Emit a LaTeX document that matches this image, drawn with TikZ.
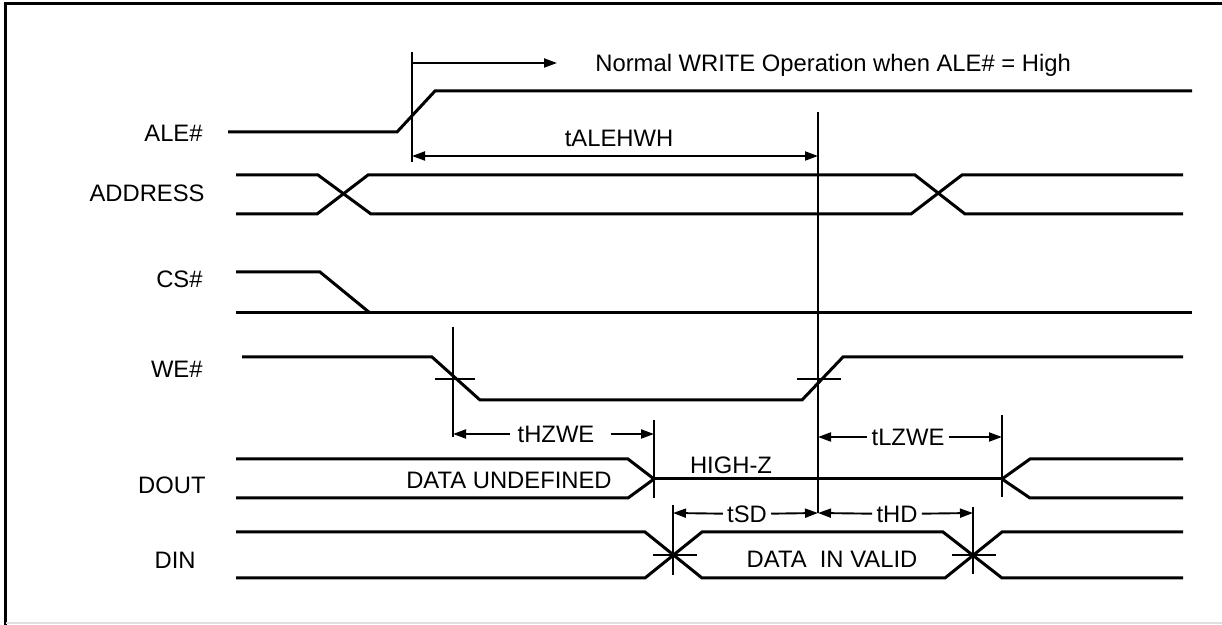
\documentclass[tikz,border=0pt]{standalone}
\usepackage{fontspec}
\setmainfont{Liberation Sans}
\usepackage{tikz}
\usetikzlibrary{arrows.meta}
\tikzstyle{sig} = [line width=1.5pt, line join=miter]
\tikzstyle{guide} = [line width=0.95pt]
\tikzstyle{frame} = [line width=1.5pt]
\tikzstyle{dimarrow} = [line width=0.95pt, -{Triangle[length=6.5pt,width=4.5pt]}]
\tikzstyle{dimboth} = [line width=0.95pt, {Triangle[length=6.5pt,width=4.5pt]}-{Triangle[length=6.5pt,width=4.5pt]}]
\tikzstyle{signame} = [anchor=east, inner sep=0pt, font={\fontsize{11.9}{14}\selectfont}]
\tikzstyle{txt} = [inner sep=2pt, font={\fontsize{11.9}{14}\selectfont}]

\begin{document}
\begin{tikzpicture}[x=0.5pt,y=-0.5pt]
        \useasboundingbox (0,0) rectangle (1222,625);
        \draw[frame] (5,625) -- (5,4) -- (1222,4);
        \draw[line width=0.6pt, black!12] (6,623) -- (1222,623);
        % signal names
        \node[signame](ale) at (203,133){ALE\#};
        \node[signame](addr) at (205,193){ADDRESS};
        \node[signame](cs) at (203,279){CS\#};
        \node[signame](we) at (203,369){WE\#};
        \node[signame](dout) at (206,485){DOUT};
        \node[signame](din) at (196,560){DIN};
        % waveforms
        \draw[sig] (228,132) -- (397,132) -- (435,91) -- (1192,91);
        \draw[sig] (236,175) -- (318,175) -- (371,214) -- (911,214) -- (962,175) -- (1183,175);
        \draw[sig] (236,214) -- (317,214) -- (368,175) -- (915,175) -- (965,214) -- (1183,214);
        \draw[sig] (236,272) -- (320,272) -- (370,313);
        \draw[sig] (236,313) -- (1192,313);
        \draw[sig] (242,357) -- (432,357) -- (480,400) -- (802,400) -- (843,357) -- (1183,357);
        \draw[sig] (236,459) -- (628,459) -- (654,479) -- (628,498) -- (236,498);
        \draw[sig] (654,479) -- (1002,479);
        \draw[sig] (1183,459) -- (1030,459) -- (1002,479) -- (1030,498) -- (1183,498);
        \draw[sig] (236,532) -- (645,532) -- (702,578) -- (945,578) -- (1002,532) -- (1183,532);
        \draw[sig] (236,578) -- (645,578) -- (702,532) -- (943,532) -- (1002,578) -- (1183,578);
        % reference lines and ticks
        \draw[guide] (412,52) -- (412,162);
        \draw[guide] (818,112) -- (818,513);
        \draw[guide] (453,327) -- (453,437);
        \draw[guide] (435,379) -- (475,379);
        \draw[guide] (797,379) -- (841,379);
        \draw[guide] (654,420) -- (654,498);
        \draw[guide] (1002,415) -- (1002,497);
        \draw[guide] (673,505) -- (673,575);
        \draw[guide] (653,555) -- (697,555);
        \draw[guide] (973,507) -- (973,574);
        \draw[guide] (952,555) -- (996,555);
        % labels on the waveforms
        \node[txt](normal) at (591,65)[anchor=west]{Normal WRITE Operation when ALE\# = High};
        \node[txt](undef) at (509,480){DATA UNDEFINED};
        \node[txt](highz) at (731,465){HIGH-Z};
        \node[txt](valid) at (832,559){DATA\ \ IN VALID};
        % timing arrows
        \coordinate(nL) at (412,63);
        \coordinate(nR) at (557,63);
        \draw[dimarrow] (nL) -- (nR);
        \coordinate(aleL) at (412,156);
        \coordinate(aleR) at (818,156);
        \draw[dimboth] (aleL) -- (aleR);
        \node[txt](talehwh) at (619,138){tALEHWH};
        \node[txt](thzwe) at (556,434){tHZWE};
        \coordinate(hzL) at (453,434);
        \coordinate(hzR) at (654,434);
        \draw[dimarrow] (thzwe.west) ++(-3,0) -- (hzL);
        \draw[dimarrow] (thzwe.east) ++(12,0) -- (hzR);
        \node[txt](tlzwe) at (908,437){tLZWE};
        \coordinate(lzL) at (818,437);
        \coordinate(lzR) at (1002,437);
        \draw[dimarrow] (tlzwe) -- (lzL);
        \draw[dimarrow] (tlzwe) -- (lzR);
        \node[txt](tsd) at (747,514){tSD};
        \coordinate(sdL) at (673,513);
        \coordinate(sdR) at (818,513);
        \draw[dimarrow] (tsd) -- (sdL);
        \draw[dimarrow] (tsd) -- (sdR);
        \node[txt](thd) at (897,514){tHD};
        \coordinate(hdL) at (818,513);
        \coordinate(hdR) at (973,513);
        \draw[dimarrow] (thd) -- (hdL);
        \draw[dimarrow] (thd) -- (hdR);
      \end{tikzpicture}
\end{document}
